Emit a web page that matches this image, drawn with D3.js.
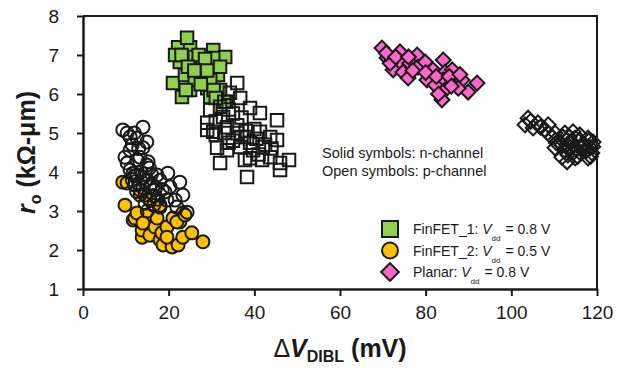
<!DOCTYPE html>
<html>
<head>
<meta charset="utf-8">
<script src="https://cdn.jsdelivr.net/npm/d3@7"></script>
<style>
  body { margin: 0; background: #fff; }
  svg text { font-family: "Liberation Sans", Arial, sans-serif; fill: #1a1a1a; }
</style>
</head>
<body>
<div id="chart"></div>
<script>
// FinFET_1 (squares), n-channel solid / p-channel open
var fin1N = [[22.2,7.2],[25.0,7.2],[24.3,7.44],[30.4,7.13],[33.2,6.95],[22.6,6.82],[21.0,6.28],
  [25.0,6.1],[30.4,6.92],[27.3,6.56],[31.5,6.49],[29.0,6.15],[23.1,5.92],[29.7,5.92],
  [26.1,6.95],[28.0,6.77],[23.8,6.49],[26.1,6.36],[32.0,6.1],[33.4,5.8],[29.7,6.36],
  [21.5,7.0],[23.0,7.0],[27.0,7.0],[28.5,6.9],[24.5,6.7],[26.0,6.6],[29.0,6.6],[32.0,6.7],
  [30.5,6.1],[27.5,6.25],[31.0,5.9],[24.0,6.1]];
var fin1P = [[36.0,6.28],[34.3,6.03],[36.7,5.9],[29.7,5.59],[32.0,5.67],[39.0,5.64],[41.3,5.51],
  [29.0,5.26],[32.7,5.41],[29.0,5.08],[30.4,5.03],[33.6,5.15],[36.0,5.0],[38.3,4.9],[41.3,5.03],
  [43.7,4.9],[45.3,5.33],[45.3,4.82],[31.3,4.62],[33.6,4.56],[36.7,4.64],[39.7,4.56],[42.0,4.64],
  [32.0,4.23],[37.8,4.31],[38.3,3.87],[41.8,4.31],[43.7,4.38],[46.0,4.23],[48.1,4.31],[46.0,4.05],
  [31.0,5.3],[33.0,5.0],[35.0,4.8],[37.0,4.9],[39.0,4.75],[40.5,4.85],[42.5,4.7],[34.0,4.75],
  [36.0,5.2],[38.0,5.05],[40.0,5.1],[44.0,4.6],[35.0,5.5],[33.0,5.8],[37.0,5.4],[31.0,4.95],
  [41.0,4.45],[39.0,4.35],[34.0,5.6]];
// FinFET_2 (circles)
var fin2N = [[9.8,3.15],[9.3,3.74],[11.7,2.77],[12.1,2.82],[13.8,2.33],[13.8,2.51],[15.6,2.38],
  [16.1,2.85],[16.8,2.59],[18.0,2.26],[18.7,2.13],[18.4,2.44],[19.6,2.59],[20.8,2.08],[21.0,2.82],
  [22.2,2.13],[22.6,2.72],[23.3,2.95],[23.3,2.33],[25.4,2.44],[28.0,2.21],[14.9,2.9],[12.6,2.95],
  [14.0,2.69],[17.3,2.82],[21.9,2.72],[23.8,2.9],[19.6,2.33],[15.6,3.28],[13.3,3.41],[18.0,3.15]];
var fin2P = [[14.0,5.15],[9.3,5.08],[10.3,5.0],[12.6,4.87],[14.9,4.77],[11.0,4.56],[13.3,4.38],
  [9.8,4.38],[10.3,4.23],[14.9,4.18],[11.7,3.97],[14.0,3.85],[10.3,3.72],[19.8,3.97],[18.0,3.79],
  [20.3,3.62],[23.3,3.41],[24.3,2.97],[21.9,3.1],[19.6,3.28],[15.6,3.62],[13.3,3.54],[15.6,3.28],
  [18.0,3.1],[12.6,4.31],[15.2,4.26],[11.0,4.05],[22.6,3.74],[14.0,4.62],[16.8,3.54],[14.5,3.41],
  [12.1,3.67],[19.1,3.49],[21.5,3.28],[17.3,3.92],[12.6,3.92],
  [12.0,3.9],[13.0,3.7],[14.0,3.6],[15.0,3.8],[16.0,3.7],[17.0,3.6],[13.5,4.0],[15.5,4.1],
  [16.5,3.4],[17.5,3.3],[14.5,3.2],[12.5,3.5],[11.5,3.8],[13.0,4.6],[11.5,4.7],[12.0,5.0],
  [16.0,3.95],[18.5,3.55],[15.0,3.0],[16.5,3.15],[11.0,4.9]];
// Planar (diamonds)
var planN = [[69.8,7.18],[71.0,6.92],[74.0,7.08],[74.0,6.82],[72.4,6.62],[74.7,6.56],[76.3,6.79],
  [78.0,7.0],[78.2,6.69],[80.3,6.36],[81.7,6.62],[84.1,6.87],[84.5,6.56],[86.2,6.62],[84.1,6.36],
  [86.2,6.36],[88.5,6.36],[92.0,6.28],[89.9,6.05],[84.5,6.1],[83.8,5.85],[71.7,6.79],[79.9,6.82],
  [82.2,6.23],[87.6,6.15],[75.9,6.41],
  [70.8,7.05],[73.0,6.95],[76.0,6.95],[77.0,6.6],[80.0,6.55],[82.5,6.45],[85.5,6.45],[88.0,6.5],
  [86.0,6.2],[83.0,6.0]];
var planP = [[103.9,5.38],[103.2,5.21],[105.1,5.13],[106.2,5.26],[107.9,5.08],[108.6,5.21],[110.2,5.0],
  [112.5,5.0],[114.4,5.03],[114.9,4.87],[117.9,4.87],[119.1,4.77],[116.5,4.62],[113.2,4.44],
  [111.8,4.38],[118.8,4.49],[114.9,4.36],[111.8,4.69],[116.5,4.69],[117.9,4.36],[110.2,4.62],
  [113.0,4.82],[113.7,4.62],[116.0,4.82],[118.4,4.62],[113.0,4.26],
  [109.5,4.9],[111.0,4.8],[112.0,4.9],[113.0,4.7],[114.0,4.75],[115.0,4.6],[116.0,4.5],[117.0,4.7],
  [118.0,4.8],[119.0,4.65],[112.5,4.55],[114.5,4.5],[116.0,4.95],[117.5,4.55],[110.5,4.75],
  [115.5,4.4],[118.5,4.4],[113.5,4.9],[108.5,5.0],[106.8,5.15],[104.5,5.3]];

var xTicks = [0, 20, 40, 60, 80, 100, 120];
var yTicks = [1, 2, 3, 4, 5, 6, 7, 8];
var legendItems = [
  {name: "FinFET_1: ", vdd: "= 0.8 V", shape: "square", color: "#8fd14f"},
  {name: "FinFET_2: ", vdd: "= 0.5 V", shape: "circle", color: "#ffc000"},
  {name: "Planar: ", vdd: "= 0.8 V", shape: "diamond", color: "#ff66cc"}
];

var W = 626, H = 374;
var ink = "#1a1a1a";
var margin = {top: 16, right: 29, bottom: 85, left: 83};

var svg = d3.select("#chart").append("svg").attr("width", W).attr("height", H);

var x = d3.scaleLinear().domain([0, 120]).range([margin.left, W - margin.right]);
var y = d3.scaleLinear().domain([1, 8]).range([H - margin.bottom, margin.top]);

// frame (top + right)
svg.append("path")
  .attr("d", "M" + x(0) + "," + y(8) + "H" + x(120) + "V" + y(1))
  .style("fill", "none").style("stroke", ink).style("stroke-width", 2);

// axes
var xAxis = svg.append("g").attr("transform", "translate(0," + y(1) + ")")
  .call(d3.axisBottom(x).tickValues(xTicks).tickFormat(d3.format("d"))
    .tickSize(7).tickPadding(10).tickSizeOuter(0));
var yAxis = svg.append("g").attr("transform", "translate(" + x(0) + ",0)")
  .call(d3.axisLeft(y).tickValues(yTicks).tickFormat(d3.format("d"))
    .tickSize(6).tickPadding(18).tickSizeOuter(0));

[xAxis, yAxis].forEach(function(a) {
  a.select(".domain").style("stroke", ink).style("stroke-width", 2.5);
  a.selectAll(".tick line").style("stroke", ink).style("stroke-width", 2);
  a.selectAll(".tick text").style("font-size", "19px").style("fill", ink)
    .style("font-family", '"Liberation Sans", Arial, sans-serif');
});

// marker drawing
function drawMarks(data, shape, fill) {
  var g = svg.append("g");
  g.selectAll("path").data(data).enter().append("path")
    .attr("transform", function(d) {
      return "translate(" + x(d[0]) + "," + y(d[1]) + ")" + (shape === "diamond" ? " rotate(45)" : "");
    })
    .attr("d", function() {
      if (shape === "circle") return d3.symbol().type(d3.symbolCircle).size(Math.PI * 6.5 * 6.5)();
      if (shape === "diamond") return d3.symbol().type(d3.symbolSquare).size(10.5 * 10.5)();
      return d3.symbol().type(d3.symbolSquare).size(12.5 * 12.5)();
    })
    .style("fill", fill)
    .style("stroke", ink)
    .style("stroke-width", 2);
}

drawMarks(fin1N, "square", "#8fd14f");
drawMarks(fin1P, "square", "none");
drawMarks(fin2N, "circle", "#ffc000");
drawMarks(fin2P, "circle", "none");
drawMarks(planN, "diamond", "#ff66cc");
drawMarks(planP, "diamond", "none");

// annotation
svg.append("text").attr("x", 322).attr("y", 158).style("font-size", "14.5px").text("Solid symbols: n-channel");
svg.append("text").attr("x", 322).attr("y", 176).style("font-size", "14.5px").text("Open symbols: p-channel");

// legend
var leg = svg.append("g");
legendItems.forEach(function(item, i) {
  var cy = 229 + i * 21.5;
  var p = leg.append("path")
    .attr("transform", "translate(390," + cy + ")" + (item.shape === "diamond" ? " rotate(45)" : ""))
    .style("fill", item.color).style("stroke", ink).style("stroke-width", 2);
  if (item.shape === "circle") p.attr("d", d3.symbol().type(d3.symbolCircle).size(Math.PI * 8 * 8)());
  else if (item.shape === "diamond") p.attr("d", d3.symbol().type(d3.symbolSquare).size(12.5 * 12.5)());
  else p.attr("d", d3.symbol().type(d3.symbolSquare).size(16 * 16)());

  var t = leg.append("text").attr("x", 413).attr("y", cy + 5).style("font-size", "14px");
  t.append("tspan").text(item.name);
  t.append("tspan").style("font-style", "italic").text("V");
  t.append("tspan").attr("dy", 7).style("font-size", "8px").text("dd");
  t.append("tspan").attr("dy", -7).attr("dx", 5).text(item.vdd);
});

// axis titles
var xt = svg.append("text").attr("x", x(60)).attr("y", 357).attr("text-anchor", "middle")
  .style("font-size", "25px").style("font-weight", "bold");
xt.append("tspan").style("font-weight", "normal").text("\u0394");
xt.append("tspan").style("font-style", "italic").text("V");
xt.append("tspan").attr("dy", 5).style("font-size", "16px").text("DIBL");
xt.append("tspan").attr("dy", -5).text(" (mV)");

var yt = svg.append("text")
  .attr("transform", "translate(35," + y(4.5) + ") rotate(-90)")
  .attr("text-anchor", "middle")
  .style("font-size", "25px").style("font-weight", "bold");
yt.append("tspan").style("font-style", "italic").text("r");
yt.append("tspan").attr("dy", 6).style("font-size", "16px").text("o");
yt.append("tspan").attr("dy", -6).text(" (k\u03A9-\u03BCm)");
</script>
</body>
</html>
